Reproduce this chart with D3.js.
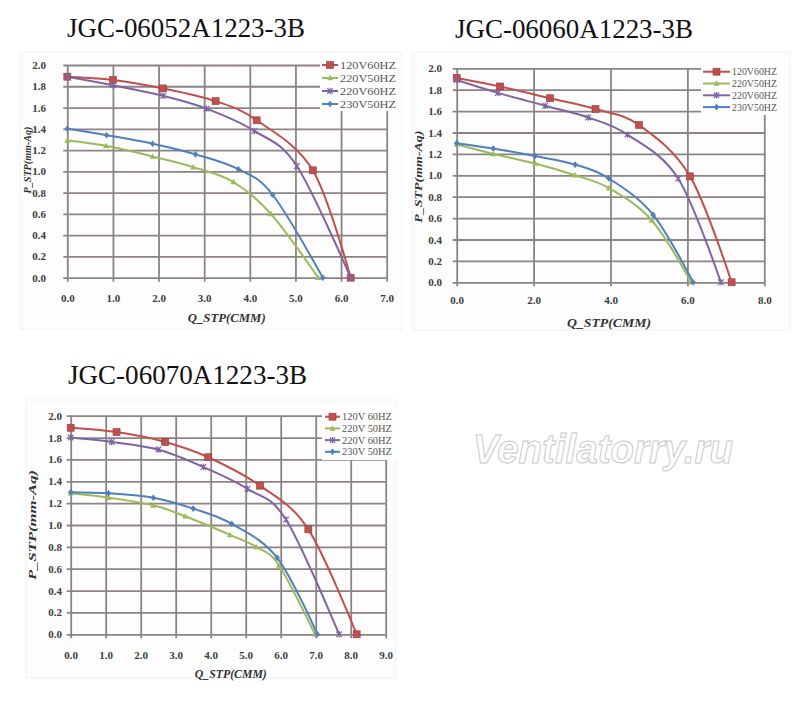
<!DOCTYPE html>
<html><head><meta charset="utf-8">
<script src="https://cdn.jsdelivr.net/npm/d3@7"></script>
<style>body{margin:0;background:#fff}</style>
</head><body>
<svg id="c" width="800" height="703"></svg>
<script>
// ---------- data ----------
const titles = ["JGC-06052A1223-3B", "JGC-06060A1223-3B", "JGC-06070A1223-3B"];
const seriesNames = ["120V60HZ", "220V50HZ", "220V60HZ", "230V50HZ"];
const seriesNames3 = ["120V 60HZ", "220V 50HZ", "220V 60HZ", "230V 50HZ"];
const xTicks1 = [0, 1, 2, 3, 4, 5, 6, 7];
const xTicks2 = [0, 2, 4, 6, 8];
const xTicks3 = [0, 1, 2, 3, 4, 5, 6, 7, 8, 9];
const yTicks = [0, 0.2, 0.4, 0.6, 0.8, 1.0, 1.2, 1.4, 1.6, 1.8, 2.0];
const xTitle = "Q_STP(CMM)";
const yTitle = "P_STP(mm-Aq)";
const watermark = "Ventilatorry.ru";

// JGC-06052A1223-3B  [Q, P]
const c1_120V60 = [[0,1.89],[1.0,1.86],[2.1,1.78],[3.25,1.66],[4.15,1.48],[5.38,1.01],[6.21,0]];
const c1_220V50 = [[0,1.29],[0.85,1.24],[1.87,1.14],[2.76,1.04],[3.64,0.90],[4.46,0.60],[5.5,0]];
const c1_220V60 = [[0,1.89],[1.0,1.81],[2.1,1.71],[3.05,1.59],[4.1,1.38],[5.03,1.05],[6.21,0]];
const c1_230V50 = [[0,1.40],[0.86,1.34],[1.87,1.26],[2.81,1.16],[3.75,1.02],[4.5,0.78],[5.6,0]];

// JGC-06060A1223-3B
const c2_120V60 = [[0,1.91],[1.13,1.83],[2.43,1.72],[3.61,1.62],[4.74,1.47],[6.07,0.99],[7.15,0]];
const c2_220V50 = [[0,1.29],[0.95,1.20],[2.04,1.11],[3.08,1.00],[3.96,0.88],[5.07,0.58],[6.1,0]];
const c2_220V60 = [[0,1.89],[1.07,1.77],[2.3,1.65],[3.42,1.54],[4.44,1.38],[5.76,0.97],[6.87,0]];
const c2_230V50 = [[0,1.30],[0.95,1.25],[2.04,1.18],[3.08,1.10],[3.96,0.97],[5.11,0.63],[6.15,0]];

// JGC-06070A1223-3B
const c3_120V60 = [[0,1.89],[1.31,1.85],[2.7,1.76],[3.93,1.62],[5.41,1.36],[6.79,0.96],[8.17,0]];
const c3_220V50 = [[0,1.29],[1.08,1.25],[2.36,1.18],[3.27,1.08],[4.55,0.91],[5.3,0.80],[5.95,0.63],[6.98,0]];
const c3_220V60 = [[0,1.80],[1.17,1.76],[2.5,1.69],[3.79,1.53],[5.05,1.33],[6.15,1.05],[7.67,0]];
const c3_230V50 = [[0,1.30],[1.08,1.29],[2.36,1.25],[3.5,1.15],[4.6,1.01],[5.9,0.70],[7.05,0]];

// ---------- styles ----------
const colors = ["#c0504d", "#9bbb59", "#8064a2", "#4f81bd"];
const markers = ["square", "triangle", "star", "diamond"];
const gridColor = "#8d8383";
const serif = "'Liberation Serif','Times New Roman',serif";

const svg = d3.select("#c");

function marker(g, type, color, cx, cy) {
  if (type === "square") {
    g.append("rect").attr("x", cx-3.5).attr("y", cy-3.5).attr("width", 7).attr("height", 7)
      .attr("fill", color).attr("stroke", "#9a3b39").attr("stroke-width", 0.6);
  } else if (type === "triangle") {
    g.append("path").attr("d", `M${cx},${cy-3.2}L${cx+3},${cy+2.3}L${cx-3},${cy+2.3}Z`).attr("fill", color);
  } else if (type === "star") {
    g.append("path").attr("d", `M${cx-2.8},${cy-2.8}L${cx+2.8},${cy+2.8}M${cx-2.8},${cy+2.8}L${cx+2.8},${cy-2.8}M${cx},${cy-3.2}L${cx},${cy+3.2}`)
      .attr("stroke", color).attr("stroke-width", 1.2).attr("fill", "none");
  } else {
    g.append("path").attr("d", `M${cx},${cy-3.3}L${cx+2.8},${cy}L${cx},${cy+3.3}L${cx-2.8},${cy}Z`).attr("fill", color);
  }
}

function drawChart(cfg) {
  const g = svg.append("g");
  // panel
  g.append("rect").attr("x", cfg.panel[0]).attr("y", cfg.panel[1]).attr("width", cfg.panel[2]).attr("height", cfg.panel[3])
    .attr("fill", "#fdfdfe").attr("stroke", "#eef1f5").attr("stroke-width", 1);
  // title
  svg.append("text").attr("x", cfg.title[0]).attr("y", cfg.title[1]).text(cfg.name)
    .attr("font-family", serif).attr("font-size", 27).attr("fill", "#111")
    .attr("textLength", cfg.title[2]).attr("lengthAdjust", "spacingAndGlyphs");

  const x = d3.scaleLinear().domain([0, cfg.xmax]).range([cfg.px0, cfg.px1]);
  const y = d3.scaleLinear().domain([0, 2]).range([cfg.py0, cfg.py1]);

  // grid via axes
  const gy = g.append("g").attr("transform", `translate(${cfg.px0},0)`)
    .call(d3.axisLeft(y).tickValues(yTicks).tickFormat(d3.format(".1f")).tickSize(-(cfg.px1 - cfg.px0)).tickPadding(0));
  gy.select(".domain").remove();
  gy.selectAll(".tick line").attr("x1", -4).attr("stroke", gridColor).attr("stroke-width", 1.8);
  gy.selectAll(".tick text").attr("x", cfg.ytlx - cfg.px0).attr("font-family", serif).attr("font-weight", "bold")
    .attr("font-size", 11).attr("fill", "#3c3c3c");

  const gx = g.append("g").attr("transform", `translate(0,${cfg.py0})`)
    .call(d3.axisBottom(x).tickValues(cfg.xTicks).tickFormat(d3.format(".1f")).tickSize(-(cfg.py0 - cfg.py1)).tickPadding(0));
  gx.select(".domain").remove();
  gx.selectAll(".tick line").attr("y1", 4).attr("stroke", gridColor).attr("stroke-width", 1.8);
  gx.selectAll(".tick text").attr("y", cfg.xtly - cfg.py0).attr("dy", 0).attr("font-family", serif).attr("font-weight", "bold")
    .attr("font-size", 11).attr("fill", "#3c3c3c");

  // axis titles
  g.append("text").attr("x", cfg.xt[0]).attr("y", cfg.xt[1]).attr("text-anchor", "middle").text(xTitle)
    .attr("font-family", serif).attr("font-weight", "bold").attr("font-style", "italic").attr("font-size", 12).attr("fill", "#333")
    .attr("textLength", cfg.xt[2]).attr("lengthAdjust", "spacingAndGlyphs");
  g.append("text").attr("transform", `translate(${cfg.yt[0]},${cfg.yt[1]}) rotate(-90)`).attr("text-anchor", "middle").text(yTitle)
    .attr("font-family", serif).attr("font-weight", "bold").attr("font-style", "italic").attr("font-size", 11).attr("fill", "#333")
    .attr("textLength", cfg.yt[2]).attr("lengthAdjust", "spacingAndGlyphs");

  // legend box (covers grid)
  const lg = cfg.legend;
  g.append("rect").attr("x", lg.box[0]).attr("y", lg.box[1]).attr("width", lg.box[2]).attr("height", lg.box[3]).attr("fill", "#fff");

  // series
  const line = d3.line().x(d => x(d[0])).y(d => y(d[1])).curve(d3.curveCardinal.tension(0));
  cfg.series.forEach((s, i) => {
    g.append("path").attr("d", line(s)).attr("fill", "none").attr("stroke", colors[i]).attr("stroke-width", 2);
  });
  cfg.series.forEach((s, i) => {
    s.forEach(d => marker(g, markers[i], colors[i], x(d[0]), y(d[1])));
  });

  // legend
  cfg.names.forEach((n, i) => {
    const ly = lg.y + i * lg.dy;
    g.append("line").attr("x1", lg.x0).attr("x2", lg.x1).attr("y1", ly).attr("y2", ly)
      .attr("stroke", colors[i]).attr("stroke-width", 2);
    marker(g, markers[i], colors[i], (lg.x0 + lg.x1) / 2, ly);
    g.append("text").attr("x", lg.tx).attr("y", ly + 3.5).text(n)
      .attr("font-family", serif).attr("font-size", 10.5).attr("fill", "#555")
      .attr("textLength", lg.tw).attr("lengthAdjust", "spacingAndGlyphs");
  });
}

drawChart({
  name: titles[0], title: [67, 37, 238],
  panel: [20, 52, 382, 277],
  xmax: 7, xTicks: xTicks1, px0: 67.3, px1: 386.7, py0: 277.7, py1: 65,
  ytlx: 46, xtly: 302, xt: [226.7, 322, 78], yt: [31, 160, 67],
  legend: { box: [320, 56, 80, 55], x0: 322, x1: 338, tx: 340, tw: 56, y: 65, dy: 13 },
  names: seriesNames,
  series: [c1_120V60, c1_220V50, c1_220V60, c1_230V50]
});
drawChart({
  name: titles[1], title: [455, 37.5, 238],
  panel: [412, 52, 378, 278],
  xmax: 8, xTicks: xTicks2, px0: 456.7, px1: 764.3, py0: 282.3, py1: 68.3,
  ytlx: 442, xtly: 304, xt: [609, 327, 84], yt: [422, 176.7, 92],
  legend: { box: [701, 60, 85, 55], x0: 703, x1: 730, tx: 732, tw: 45, y: 71.7, dy: 11.8 },
  names: seriesNames,
  series: [c2_120V60, c2_220V50, c2_220V60, c2_230V50]
});
drawChart({
  name: titles[2], title: [68, 384, 239],
  panel: [26, 400, 370, 278],
  xmax: 9, xTicks: xTicks3, px0: 70.7, px1: 385.7, py0: 634.3, py1: 415.7,
  ytlx: 62, xtly: 659, xt: [230.8, 678, 72], yt: [36, 525, 110],
  legend: { box: [322, 408, 75, 52], x0: 325, x1: 340, tx: 342, tw: 50, y: 416.7, dy: 11.7 },
  names: seriesNames3,
  series: [c3_120V60, c3_220V50, c3_220V60, c3_230V50]
});

// watermark
svg.append("text").attr("x", 473).attr("y", 463).text(watermark)
  .attr("font-family", "'Liberation Sans',Arial,sans-serif").attr("font-weight", "bold").attr("font-style", "italic")
  .attr("font-size", 40).attr("fill", "#fff").attr("stroke", "#c9c9c9").attr("stroke-width", 1)
  .attr("textLength", 260).attr("lengthAdjust", "spacingAndGlyphs");
</script>
</body></html>
